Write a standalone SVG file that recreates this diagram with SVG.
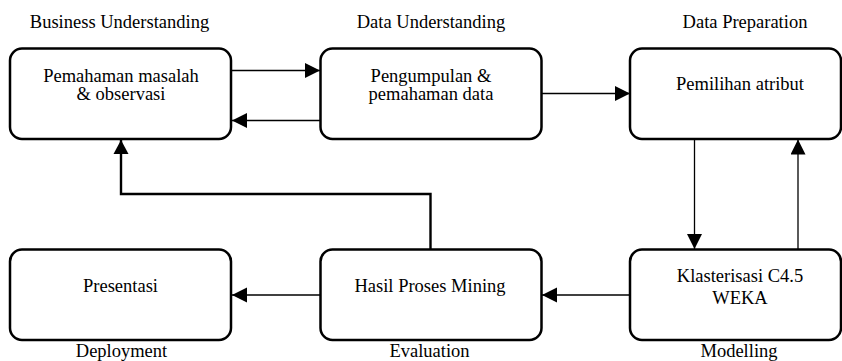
<svg xmlns="http://www.w3.org/2000/svg" width="842" height="361" viewBox="0 0 842 361">
<style>
.box{fill:#fff;stroke:#000;stroke-width:2.5}
text{font-family:'Liberation Serif','Times New Roman',Times,serif;font-size:18.5px;fill:#000;text-anchor:middle}
.c{fill:none;stroke:#000;stroke-width:1.3}
.ck{fill:none;stroke:#000;stroke-width:2.4}
</style>
<defs>
<marker id="ah" markerUnits="userSpaceOnUse" markerWidth="16" markerHeight="16" viewBox="0 0 16 16" refX="15" refY="7.5" orient="auto">
<path d="M0,0 L15,7.5 L0,15 Z" fill="#000"/>
</marker>
<marker id="ahk" markerUnits="userSpaceOnUse" markerWidth="16" markerHeight="16" viewBox="0 0 16 16" refX="14" refY="8" orient="auto">
<path d="M0,0.5 L14,8 L0,15.5 Z" fill="#000"/>
</marker>
</defs>
<rect width="842" height="361" fill="#fff"/>
<g id="connectors">
<line class="c" x1="231" y1="70.5" x2="320" y2="70.5" marker-end="url(#ah)"/>
<line class="c" x1="320.5" y1="120.5" x2="232" y2="120.5" marker-end="url(#ah)"/>
<line class="c" x1="541.5" y1="93.5" x2="630" y2="93.5" marker-end="url(#ah)"/>
<line class="c" x1="694.5" y1="139" x2="694.5" y2="249" marker-end="url(#ah)"/>
<line class="c" x1="798" y1="249" x2="798" y2="139.5" marker-end="url(#ah)"/>
<line class="c" x1="630" y1="295" x2="542" y2="295" marker-end="url(#ah)"/>
<line class="c" x1="320.5" y1="295" x2="232" y2="295" marker-end="url(#ah)"/>
<polyline class="ck" points="430.5,249 430.5,194 121,194 121,140" marker-end="url(#ahk)"/>
</g>
<g id="business" font-family="Liberation Serif, serif">
<rect class="box" x="10" y="48.5" width="221" height="90.5" rx="12"/>
<text x="121" y="81.5">Pemahaman masalah</text>
<text x="121" y="100">&amp; observasi</text>
<text x="119.5" y="28">Business Understanding</text>
</g>
<g id="data-understanding">
<rect class="box" x="320.5" y="48.5" width="221" height="90.5" rx="12"/>
<text x="431" y="81.5">Pengumpulan &amp;</text>
<text x="431" y="100">pemahaman data</text>
<text x="431" y="27.5">Data Understanding</text>
</g>
<g id="data-preparation">
<rect class="box" x="630" y="48.5" width="211" height="90.5" rx="12"/>
<text x="740" y="90">Pemilihan atribut</text>
<text x="745" y="28">Data Preparation</text>
</g>
<g id="deployment">
<rect class="box" x="10" y="249.5" width="221" height="90.5" rx="12"/>
<text x="120.5" y="291.5">Presentasi</text>
<text x="121.5" y="356.5">Deployment</text>
</g>
<g id="evaluation">
<rect class="box" x="320.5" y="249.5" width="221" height="90.5" rx="12"/>
<text x="430" y="291.5">Hasil Proses Mining</text>
<text x="429.5" y="356.5">Evaluation</text>
</g>
<g id="modelling">
<rect class="box" x="630" y="249.5" width="211" height="90.5" rx="12"/>
<text x="740" y="282">Klasterisasi C4.5</text>
<text x="740" y="304">WEKA</text>
<text x="739" y="356.5">Modelling</text>
</g>
</svg>
